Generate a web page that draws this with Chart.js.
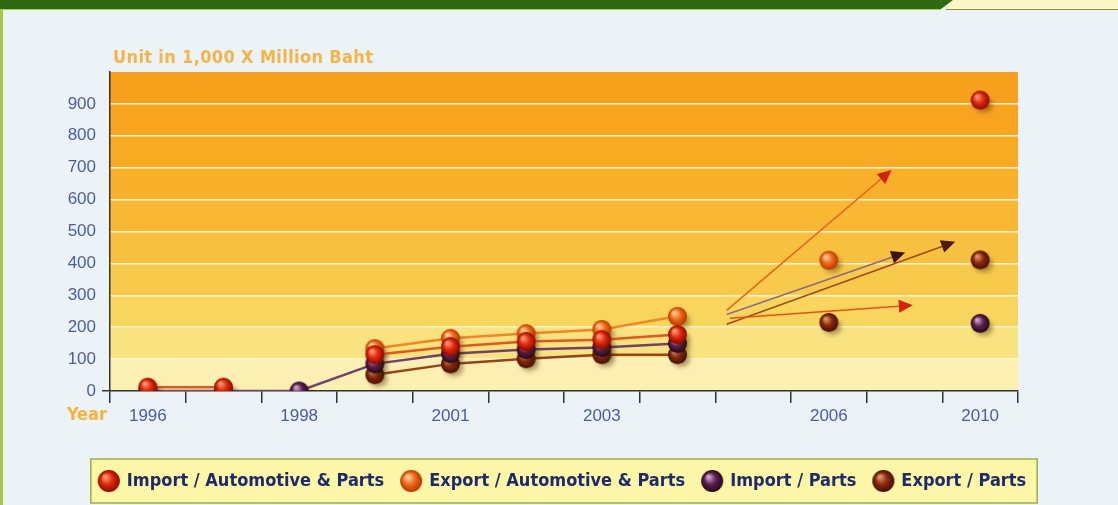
<!DOCTYPE html>
<html>
<head>
<meta charset="utf-8">
<script src="https://cdn.jsdelivr.net/npm/chart.js@4/dist/chart.umd.min.js"></script>
<style>
  html, body { margin: 0; padding: 0; width: 1118px; height: 505px; overflow: hidden; background: #ebf3f7; }
  #wrap { position: relative; width: 1118px; height: 505px; }
  #topbar { position: absolute; left: 0; top: 0; width: 953px; height: 9px; background: #2f6a12;
            clip-path: polygon(0 0, 100% 0, 98.6% 100%, 0 100%); border-bottom: 1px solid #a6cc4a; }
  #topright { position: absolute; left: 946px; top: 0; width: 172px; height: 9px; background: #fbf8c6;
              border-bottom: 1.5px solid #7d9640; }
  #leftbar { position: absolute; left: 0; top: 9px; width: 3px; height: 496px; background: #a3c845; }
  canvas { position: absolute; left: 0; top: 0; }
</style>
</head>
<body>
<div id="wrap">
  <div id="topright"></div>
  <div id="topbar"></div>
  <div id="leftbar"></div>
  <canvas id="chart" width="1118" height="505"></canvas>
</div>
<script>
  'use strict';

  // ---- data ----
  var years = ['1996', '1997', '1998', '2000', '2001', '2002', '2003', '2004', '2005', '2006', '2008', '2010'];
  var yearTicks = ['1996', '', '1998', '', '2001', '', '2003', '', '', '2006', '', '2010'];
  var seriesNames = ['Import / Automotive & Parts', 'Export / Automotive & Parts', 'Import / Parts', 'Export / Parts'];

  var importAuto  = [12, 12, null, 114, 139, 155, 161, 177, null, null, null, 912];
  var exportAuto  = [null, null, null, 133, 165, 180, 193, 234, null, 410, null, null];
  var importParts = [0, 0, 0, 85, 117, 130, 136, 149, null, null, null, 212];
  var exportParts = [null, null, null, 51, 85, 101, 114, 114, null, 215, null, 411];

  // trend arrows (category index may be fractional, value in y units)
  var trendStartSlot  = [7.65, 7.65, 7.65, 7.69];
  var trendStartValue = [253, 240, 209, 228];
  var trendEndSlot    = [9.83, 10.01, 10.67, 10.11];
  var trendEndValue   = [693, 434, 468, 269];

  var unitTitle = 'Unit in 1,000 X Million Baht';
  var yearTitle = 'Year';

  // ---- styles ----
  var narrow = '"Liberation Sans Narrow", "Arial Narrow", "DejaVu Sans Condensed", sans-serif';
  var plain = '"Liberation Sans", Arial, sans-serif';
  var tickBlue = '#4a5ca2';
  var bandColors = ['#fbf0b2', '#f9e380', '#f8d65e', '#f7ca4b', '#f7c03e', '#f8b833', '#f8b02a', '#f8aa23', '#f8a41e', '#f7a01b'];
  var lineColors = ['#e4561a', '#f2861f', '#70406e', '#98421a'];
  var trendLine = ['#e8641c', '#8e6a86', '#a04a1a', '#e8501a'];
  var trendHead = ['#d42012', '#3a1418', '#4a1a10', '#d82014'];

  function sphere(base, light, dark, r, shadow) {
    var pad = shadow ? 9 : 1;
    var s = Math.ceil(r * 2 + pad * 2);
    var c = document.createElement('canvas');
    c.width = c.height = s;
    var g = c.getContext('2d');
    var cx = s / 2, cy = s / 2;
    if (shadow) {
      g.save();
      g.filter = 'blur(2.5px)';
      g.fillStyle = 'rgba(70,40,0,0.45)';
      g.beginPath();
      g.ellipse(cx + 3.5, cy + 4.5, r * 0.95, r * 0.8, 0, 0, Math.PI * 2);
      g.fill();
      g.restore();
    }
    var grad = g.createRadialGradient(cx - r * 0.35, cy - r * 0.4, r * 0.08, cx, cy, r);
    grad.addColorStop(0, light);
    grad.addColorStop(0.5, base);
    grad.addColorStop(1, dark);
    g.fillStyle = grad;
    g.beginPath();
    g.arc(cx, cy, r, 0, Math.PI * 2);
    g.fill();
    return c;
  }

  var sphereColors = [
    ['#e02a0a', '#ff9a78', '#8a0800'],
    ['#f26a1a', '#ffd2a4', '#b53800'],
    ['#5a2050', '#d4a6d2', '#260818'],
    ['#8a2a0a', '#e49866', '#440e00']
  ];
  var pointImgs = sphereColors.map(function (c) { return sphere(c[0], c[1], c[2], 9.5, true); });
  var legendImgs = sphereColors.map(function (c) { return sphere(c[0], c[1], c[2], 11, false); });

  var seriesData = [importAuto, exportAuto, importParts, exportParts];

  function fitText(ctx, text, width) {
    ctx.letterSpacing = '0px';
    var w = ctx.measureText(text).width;
    var ls = (width - w) / (text.length - 1);
    ctx.letterSpacing = ls.toFixed(2) + 'px';
  }

  var decorations = {
    id: 'decorations',
    beforeDraw: function (chart) {
      var ctx = chart.ctx, area = chart.chartArea, y = chart.scales.y;
      ctx.save();
      // orange bands
      for (var i = 0; i < bandColors.length; i++) {
        var top = i === bandColors.length - 1 ? area.top : y.getPixelForValue((i + 1) * 100);
        var bottom = y.getPixelForValue(i * 100);
        ctx.fillStyle = bandColors[i];
        ctx.fillRect(area.left, top, area.right - area.left, bottom - top + 0.5);
      }
      // legend frame
      var boxes = chart.legend.legendHitBoxes;
      if (boxes && boxes.length) {
        var l = Infinity, r = -Infinity, t = Infinity, b = -Infinity;
        boxes.forEach(function (h) {
          l = Math.min(l, h.left); r = Math.max(r, h.left + h.width);
          t = Math.min(t, h.top); b = Math.max(b, h.top + h.height);
        });
        ctx.fillStyle = '#fbf7a6';
        ctx.strokeStyle = '#9fae48';
        ctx.lineWidth = 1.5;
        ctx.fillRect(l - 9, t - 13, r - l + 20, b - t + 26);
        ctx.strokeRect(l - 9, t - 13, r - l + 20, b - t + 26);
      }
      ctx.restore();
    },
    beforeDatasetsDraw: function (chart) {
      var ctx = chart.ctx, x = chart.scales.x, y = chart.scales.y;
      ctx.save();
      for (var i = 0; i < trendStartSlot.length; i++) {
        var x0 = x.getPixelForValue(trendStartSlot[i]), y0 = y.getPixelForValue(trendStartValue[i]);
        var x1 = x.getPixelForValue(trendEndSlot[i]), y1 = y.getPixelForValue(trendEndValue[i]);
        var ang = Math.atan2(y1 - y0, x1 - x0);
        var hl = 14, hw = 6.5;
        var bx = x1 - hl * Math.cos(ang), by = y1 - hl * Math.sin(ang);
        ctx.strokeStyle = trendLine[i];
        ctx.lineWidth = 1.6;
        ctx.beginPath();
        ctx.moveTo(x0, y0);
        ctx.lineTo(bx, by);
        ctx.stroke();
        ctx.fillStyle = trendHead[i];
        ctx.beginPath();
        ctx.moveTo(x1, y1);
        ctx.lineTo(bx + hw * Math.sin(ang), by - hw * Math.cos(ang));
        ctx.lineTo(bx - hw * Math.sin(ang), by + hw * Math.cos(ang));
        ctx.closePath();
        ctx.fill();
      }
      ctx.restore();
    },
    afterDraw: function (chart) {
      var ctx = chart.ctx, area = chart.chartArea;
      ctx.save();
      ctx.fillStyle = '#f5b445';
      ctx.font = 'bold 18px ' + narrow;
      ctx.textBaseline = 'alphabetic';
      fitText(ctx, unitTitle, 260);
      ctx.fillText(unitTitle, area.left + 3, 63);
      ctx.fillStyle = '#f6b23c';
      ctx.font = 'bold 18px ' + narrow;
      fitText(ctx, yearTitle, 40);
      ctx.textBaseline = 'middle';
      ctx.fillText(yearTitle, 67, 415);
      ctx.restore();
    }
  };

  var ctx = document.getElementById('chart').getContext('2d');
  window.autoChart = new Chart(ctx, {
    type: 'line',
    data: {
      labels: years,
      datasets: seriesData.map(function (d, i) {
        return {
          label: seriesNames[i],
          data: d,
          borderColor: lineColors[i],
          backgroundColor: lineColors[i],
          borderWidth: 2.5,
          pointStyle: pointImgs[i],
          spanGaps: false,
          tension: 0,
          fill: false
        };
      })
    },
    options: {
      responsive: false,
      animation: false,
      layout: { padding: { left: 8, right: 0, top: 72, bottom: 5 } },
      plugins: {
        tooltip: { enabled: false },
        legend: {
          position: 'bottom',
          align: 'center',
          labels: {
            usePointStyle: true,
            boxWidth: 20,
            padding: 18,
            color: '#1f2a6e',
            font: { family: narrow, size: 18, weight: 'bold' },
            generateLabels: function (chart) {
              var items = Chart.defaults.plugins.legend.labels.generateLabels(chart);
              items.forEach(function (it, i) { it.pointStyle = legendImgs[i]; });
              return items;
            }
          }
        }
      },
      scales: {
        x: {
          type: 'category',
          offset: true,
          grid: { offset: true, drawOnChartArea: false, drawTicks: true, tickLength: 12, color: '#333', lineWidth: 1.5 },
          border: { display: true, color: '#333', width: 1.5 },
          ticks: {
            autoSkip: false,
            maxRotation: 0,
            padding: 3,
            color: tickBlue,
            font: { family: plain, size: 17 },
            callback: function (v, i) { return yearTicks[i]; }
          },
          afterFit: function (s) { s.height = 63; }
        },
        y: {
          min: 0,
          max: 1000,
          afterBuildTicks: function (s) {
            s.ticks = s.ticks.filter(function (t) { return t.value < 1000; });
          },
          grid: {
            color: function (c) { return c.tick && c.tick.value === 0 ? 'rgba(0,0,0,0)' : '#fff6d2'; },
            lineWidth: 1.5,
            drawTicks: true,
            tickLength: 8,
            tickColor: function (c) { return c.tick && c.tick.value === 0 ? '#333' : 'rgba(0,0,0,0)'; }
          },
          border: { display: true, color: '#333', width: 1.5 },
          ticks: { stepSize: 100, padding: 6, color: tickBlue, font: { family: plain, size: 17 } },
          afterFit: function (s) { s.width = 102; }
        },
        yr: {
          position: 'right',
          display: true,
          grid: { display: false },
          border: { display: false },
          ticks: { display: false },
          afterFit: function (s) { s.width = 100; }
        }
      }
    },
    plugins: [decorations]
  });
</script>
</body>
</html>
